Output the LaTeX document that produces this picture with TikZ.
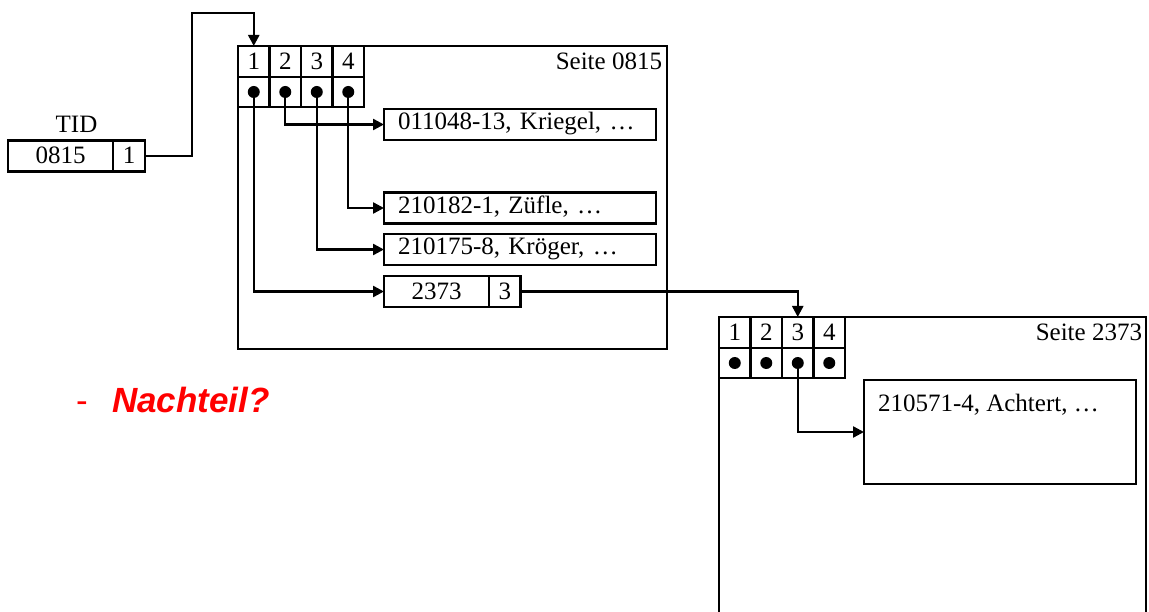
\documentclass[tikz,border=0pt]{standalone}
\usepackage{fontspec}
\setmainfont{Liberation Serif}
\newfontfamily\nachteilfont{Liberation Sans}
\usepackage{tikz}
\usetikzlibrary{arrows.meta,positioning,calc}

\begin{document}
\begin{tikzpicture}[
  x=1pt, y=-1pt,
  line width=2.4pt,
  every node/.style={font=\fontsize{25}{30}\selectfont, inner sep=0pt, outer sep=0pt},
  slot/.style={rectangle, draw, minimum width=31.5pt, minimum height=31pt},
  ptr/.style={slot, minimum height=30pt, path picture={\fill (path picture bounding box.center) circle (6pt);}},
  rec/.style={rectangle, draw, anchor=west, minimum width=272pt, minimum height=31pt, text width=244pt, align=left, text height=17pt, text depth=6pt},
  cell/.style={rectangle, draw, anchor=west, minimum height=31pt, text height=17pt, text depth=1pt},
  pagebox/.style={rectangle, draw, anchor=north west},
  arrow/.style={-{Triangle[length=11pt, width=11pt]}},
]
  \useasboundingbox (0,0) rectangle (1149,612);

  % TID
  \node[cell, minimum width=105pt] (tid) at (8,156) {0815};
  \node[cell, minimum width=32pt, right=0pt of tid] (tidslot) {1};
  \node[anchor=base] (tidlabel) at (76.5,133) {TID};

  % Seite 0815
  \node[pagebox, minimum width=429pt, minimum height=303pt] (pg1) at (238,46) {};
  \node[anchor=north east] (pg1label) at ([xshift=-5pt, yshift=-7pt]pg1.north east) {Seite 0815};
  \node[slot, anchor=north west] (a1) at (238,46) {1};
  \node[slot, right=0pt of a1] (a2) {2};
  \node[slot, right=0pt of a2] (a3) {3};
  \node[slot, right=0pt of a3] (a4) {4};
  \node[ptr, below=0pt of a1] (p1) {};
  \node[ptr, below=0pt of a2] (p2) {};
  \node[ptr, below=0pt of a3] (p3) {};
  \node[ptr, below=0pt of a4] (p4) {};
  \node[rec] (r1) at (384,124.5) {011048-13, Kriegel, …};
  \node[rec] (r2) at (384,208) {210182-1, Züfle, …};
  \node[rec] (r3) at (384,249.5) {210175-8, Kröger, …};
  \node[cell, minimum width=105pt] (r4a) at (384,291.5) {2373};
  \node[cell, minimum width=31.5pt, right=0pt of r4a] (r4b) {3};

  % Seite 2373
  \node[pagebox, draw=none, minimum width=427pt, minimum height=295pt] (pg2) at (719,317) {};
  \draw (pg2.south west) |- (pg2.north east) -- (pg2.south east);
  \node[anchor=north east] (pg2label) at ([xshift=-4pt, yshift=-7pt]pg2.north east) {Seite 2373};
  \node[slot, anchor=north west] (b1) at (719,317) {1};
  \node[slot, right=0pt of b1] (b2) {2};
  \node[slot, right=0pt of b2] (b3) {3};
  \node[slot, right=0pt of b3] (b4) {4};
  \node[ptr, below=0pt of b1] (q1) {};
  \node[ptr, below=0pt of b2] (q2) {};
  \node[ptr, below=0pt of b3] (q3) {};
  \node[ptr, below=0pt of b4] (q4) {};
  \node[rec, minimum height=104pt] (r5) at (864,432) {};
  \node[anchor=base west] (r5text) at (878,411) {210571-4, Achtert, …};

  % Nachteil
  \node[anchor=base west, text=red, font=\nachteilfont\fontsize{35}{40}\selectfont] (dash) at (76,412) {-};
  \node[anchor=base west, text=red, font=\nachteilfont\bfseries\itshape\fontsize{35}{40}\selectfont] (nachteil) at (112,412) {Nachteil?};

  % Arrows
  \coordinate (bend) at (192,13);
  \draw[arrow] (tidslot.east) -| (bend) -| (a1.north);
  \draw[arrow] (p2.center) |- (r1.west);
  \draw[arrow] (p4.center) |- (r2.west);
  \draw[arrow] (p3.center) |- (r3.west);
  \draw[arrow] (p1.center) |- (r4a.west);
  \draw[arrow] (r4b.east) -| (b3.north);
  \draw[arrow] (q3.center) |- (r5.west);
\end{tikzpicture}
\end{document}
